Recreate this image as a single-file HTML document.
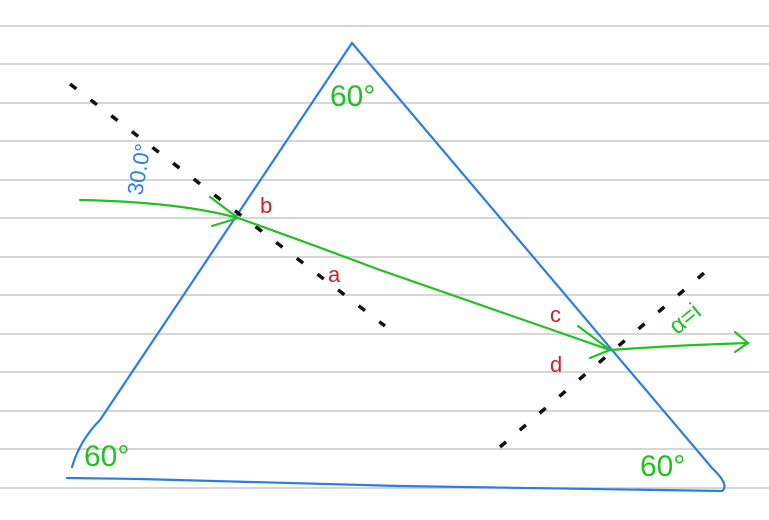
<!DOCTYPE html>
<html><head><meta charset="utf-8"><style>
html,body{margin:0;padding:0;background:#fff;}
svg{display:block;}
text{font-family:"Liberation Sans",sans-serif;}
</style></head><body>
<svg width="769" height="520" viewBox="0 0 769 520" xmlns="http://www.w3.org/2000/svg">
<g stroke="#d6d6d6" stroke-width="2">
<line x1="0" y1="26" x2="769" y2="26"/><line x1="0" y1="64" x2="769" y2="64"/>
<line x1="0" y1="103" x2="769" y2="103"/><line x1="0" y1="141" x2="769" y2="141"/>
<line x1="0" y1="180" x2="769" y2="180"/><line x1="0" y1="218" x2="769" y2="218"/>
<line x1="0" y1="257" x2="769" y2="257"/><line x1="0" y1="295" x2="769" y2="295"/>
<line x1="0" y1="334" x2="769" y2="334"/><line x1="0" y1="372" x2="769" y2="372"/>
<line x1="0" y1="411" x2="769" y2="411"/><line x1="0" y1="449" x2="769" y2="449"/>
<line x1="0" y1="488" x2="769" y2="488"/>
</g>
<g fill="none" stroke="#2a7de1" stroke-width="2.2" stroke-linecap="round">
<path d="M72,467 Q80,440 100,420 L352,43 L712,468 Q730,485 722,491"/>
<path d="M67,478 L140,479 L400,486 L722,491"/>
</g>
<g stroke="#111" stroke-width="3.5" stroke-dasharray="8,18" fill="none">
<line x1="70" y1="84" x2="385" y2="326"/>
<line x1="500" y1="447" x2="717" y2="262"/>
</g>
<g stroke="#22c022" stroke-width="2.2" fill="none" stroke-linecap="round">
<path d="M80,200 Q180,202 238,218 Q300,240 380,270 Q480,305 610,350 Q680,345 748,343"/>
<path d="M210,197 L238,218 L212,226"/>
<path d="M578,326 L610,350 L590,358"/>
<path d="M735,332 L748,343 L735,352"/>
</g>
<g fill="#22c022" font-size="30">
<text x="330" y="106">60°</text>
<text x="84" y="466">60°</text>
<text x="640" y="476">60°</text>
<text x="668" y="330" font-size="24" transform="rotate(-40 680 320)">α=i</text>
</g>
<text x="142" y="196" fill="#2a7de1" font-size="22" transform="rotate(-80 142 196)">30.0°</text>
<g fill="#d32020" font-size="22">
<text x="260" y="213">b</text>
<text x="328" y="282">a</text>
<text x="550" y="322">c</text>
<text x="550" y="372">d</text>
</g>
</svg>
</body></html>
